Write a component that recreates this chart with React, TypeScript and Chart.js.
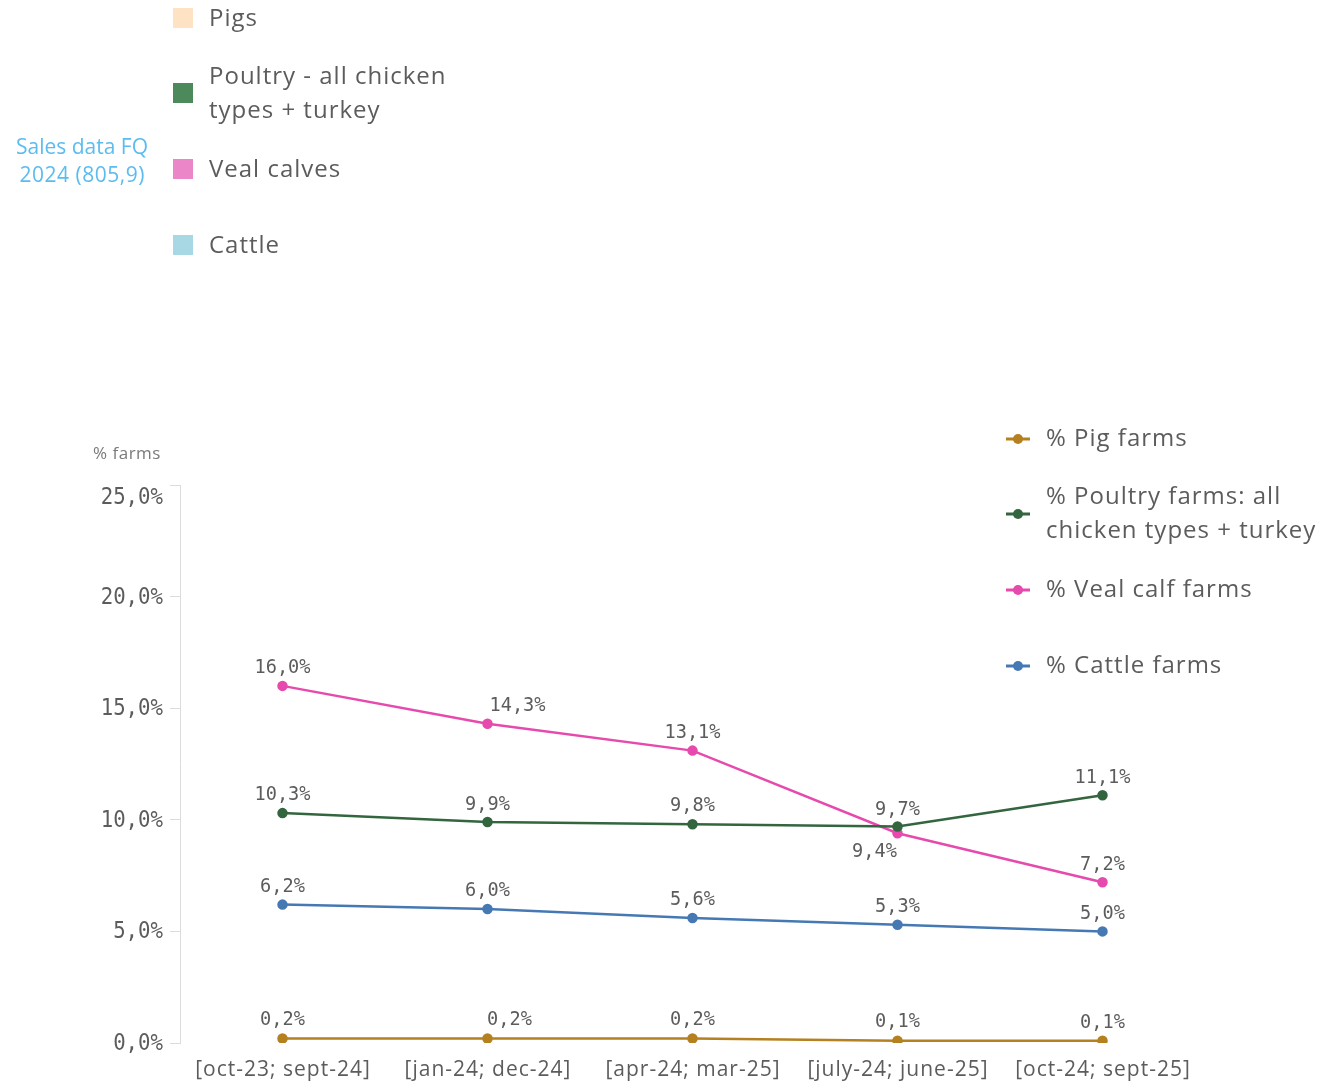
import React, { useEffect, useRef } from "react";
import { Chart, registerables } from "chart.js";

Chart.register(...registerables);

const categories = [
  "[oct-23; sept-24]",
  "[jan-24; dec-24]",
  "[apr-24; mar-25]",
  "[july-24; june-25]",
  "[oct-24; sept-25]",
];
const pigFarms = [0.2, 0.2, 0.2, 0.1, 0.1];
const poultryFarms = [10.3, 9.9, 9.8, 9.7, 11.1];
const vealFarms = [16.0, 14.3, 13.1, 9.4, 7.2];
const cattleFarms = [6.2, 6.0, 5.6, 5.3, 5.0];
const yTicks = [0, 5, 10, 15, 20, 25];

const seriesNames = [
  ["% Pig farms"],
  ["% Poultry farms: all", "chicken types + turkey"],
  ["% Veal calf farms"],
  ["% Cattle farms"],
];
const topLegendNames = [["Pigs"], ["Poultry - all chicken", "types + turkey"], ["Veal calves"], ["Cattle"]];
const topLegendColors = ["#fde3c3", "#4c8a5c", "#eb86c8", "#a8d8e3"];
const lineColors = ["#b5801f", "#33653f", "#e64aad", "#4679b3"];

// label offsets (style) per series / point
const labelOffsets = [
  [[0, -19], [22, -19], [0, -19], [0, -19], [0, -18]],
  [[0, -18], [0, -17], [0, -18], [0, -17], [0, -17]],
  [[0, -18], [30, -18], [0, -18], [-23, 19], [0, -17]],
  [[0, -18], [0, -18], [0, -18], [0, -18], [0, -18]],
];

const TEXT = "#5c5c5c";
const SANS = "'Open Sans', 'Noto Sans', sans-serif";
const MONO = "'DejaVu Sans Mono', monospace";

const fmt = (v: number) => v.toFixed(1).replace(".", ",") + "%";

function scaledText(ctx: CanvasRenderingContext2D, text: string, x: number, y: number, sx: number, align: "left" | "center" | "right") {
  ctx.save();
  ctx.translate(x, y);
  ctx.scale(sx, 1);
  ctx.textAlign = align;
  ctx.fillText(text, 0, 0);
  ctx.restore();
}

function spacedText(ctx: CanvasRenderingContext2D, text: string, x: number, y: number, spacing: number, align: "left" | "center") {
  ctx.save();
  (ctx as any).letterSpacing = spacing + "px";
  ctx.textAlign = "left";
  let sx = x;
  if (align === "center") {
    const w = ctx.measureText(text).width - spacing;
    sx = x - w / 2;
  }
  ctx.fillText(text, sx, y);
  ctx.restore();
}

const decorPlugin = {
  id: "decor",
  afterDraw(chart: any) {
    const ctx = chart.ctx as CanvasRenderingContext2D;
    ctx.save();
    // top legend remnant
    ctx.textBaseline = "middle";
    ctx.font = `24px ${SANS}`;
    const topY = [19, 94, 170, 246];
    topLegendNames.forEach((lines, i) => {
      ctx.fillStyle = topLegendColors[i];
      ctx.fillRect(173, topY[i] - 11, 20, 20);
      ctx.fillStyle = TEXT;
      const n = lines.length;
      lines.forEach((l, j) => {
        spacedText(ctx, l, 209, topY[i] + (j - (n - 1) / 2) * 34, 1, "left");
      });
    });
    ctx.fillStyle = "#5cbcf0";
    ctx.font = `21px ${SANS}`;
    spacedText(ctx, "Sales data FQ", 82, 148, 0, "center");
    spacedText(ctx, "2024 (805,9)", 82, 176, 0.5, "center");

    // axis title
    ctx.fillStyle = "#7a7a7a";
    ctx.font = `17px ${SANS}`;
    spacedText(ctx, "% farms", 93, 454, 0.5, "left");

    // right legend
    const legY = [439, 514, 590, 666];
    ctx.font = `24px ${SANS}`;
    seriesNames.forEach((lines, i) => {
      ctx.strokeStyle = lineColors[i];
      ctx.lineWidth = 3;
      ctx.beginPath();
      ctx.moveTo(1006, legY[i]);
      ctx.lineTo(1030, legY[i]);
      ctx.stroke();
      ctx.fillStyle = lineColors[i];
      ctx.beginPath();
      ctx.arc(1018, legY[i], 5, 0, Math.PI * 2);
      ctx.fill();
      ctx.fillStyle = TEXT;
      const n = lines.length;
      lines.forEach((l, j) => {
        spacedText(ctx, l, 1046, legY[i] + (j - (n - 1) / 2) * 34, 1, "left");
      });
    });

    // x tick labels
    const xs = chart.scales.x;
    ctx.fillStyle = TEXT;
    ctx.font = `21px ${SANS}`;
    categories.forEach((c, i) => {
      spacedText(ctx, c, xs.getPixelForValue(i), 1070, 1, "center");
    });

    // y tick labels
    const ys = chart.scales.y;
    ctx.font = `23px ${MONO}`;
    yTicks.forEach((v) => {
      const py = Math.max(ys.getPixelForValue(v), chart.chartArea.top + 12);
      scaledText(ctx, fmt(v), 163, py + 1, 0.9, "right");
    });

    // data labels
    ctx.font = `20px ${MONO}`;
    chart.data.datasets.forEach((ds: any, di: number) => {
      const meta = chart.getDatasetMeta(di);
      meta.data.forEach((pt: any, pi: number) => {
        const [dx, dy] = labelOffsets[di][pi];
        scaledText(ctx, fmt(ds.data[pi]), pt.x + dx, pt.y + dy, 0.93, "center");
      });
    });
    ctx.restore();
  },
};

export default function App() {
  const ref = useRef<HTMLCanvasElement>(null);
  useEffect(() => {
    document.body.style.margin = "0";
    const ds = (label: string, data: number[], color: string) => ({
      label,
      data,
      borderColor: color,
      backgroundColor: color,
      borderWidth: 2.5,
      pointRadius: 4,
      pointHoverRadius: 4,
      tension: 0,
    });
    const chart = new Chart(ref.current!, {
      type: "line",
      data: {
        labels: categories,
        datasets: [
          ds(seriesNames[0].join(" "), pigFarms, lineColors[0]),
          ds(seriesNames[1].join(" "), poultryFarms, lineColors[1]),
          ds(seriesNames[2].join(" "), vealFarms, lineColors[2]),
          ds(seriesNames[3].join(" "), cattleFarms, lineColors[3]),
        ],
      },
      options: {
        responsive: false,
        animation: false,
        layout: { padding: { left: 78, top: 485, right: 127, bottom: 0 } },
        plugins: { legend: { display: false }, tooltip: { enabled: false } },
        scales: {
          x: {
            offset: true,
            grid: { display: false },
            border: { display: false },
            ticks: { color: "rgba(0,0,0,0)", font: { family: SANS, size: 21 }, padding: 12, maxRotation: 0, autoSkip: false },
            afterFit: (s: any) => { s.height = 43; },
          },
          y: {
            min: 0,
            max: 25,
            afterBuildTicks: (s: any) => { s.ticks = yTicks.map((v) => ({ value: v })); },
            grid: { drawOnChartArea: false, tickLength: 10, color: "#dcdcdc" },
            border: { display: true, color: "#dcdcdc" },
            ticks: { color: "rgba(0,0,0,0)", font: { family: MONO, size: 20 }, padding: 6, callback: (v: any) => fmt(Number(v)) },
            afterFit: (s: any) => { s.width = 102; },
          },
        },
      },
      plugins: [decorPlugin],
    });
    return () => chart.destroy();
  }, []);
  return (
    <div style={{ position: "absolute", left: 0, top: 0, width: 1332, height: 1086, background: "#fff" }}>
      <canvas ref={ref} width={1332} height={1086} style={{ width: 1332, height: 1086, display: "block" }} />
    </div>
  );
}
